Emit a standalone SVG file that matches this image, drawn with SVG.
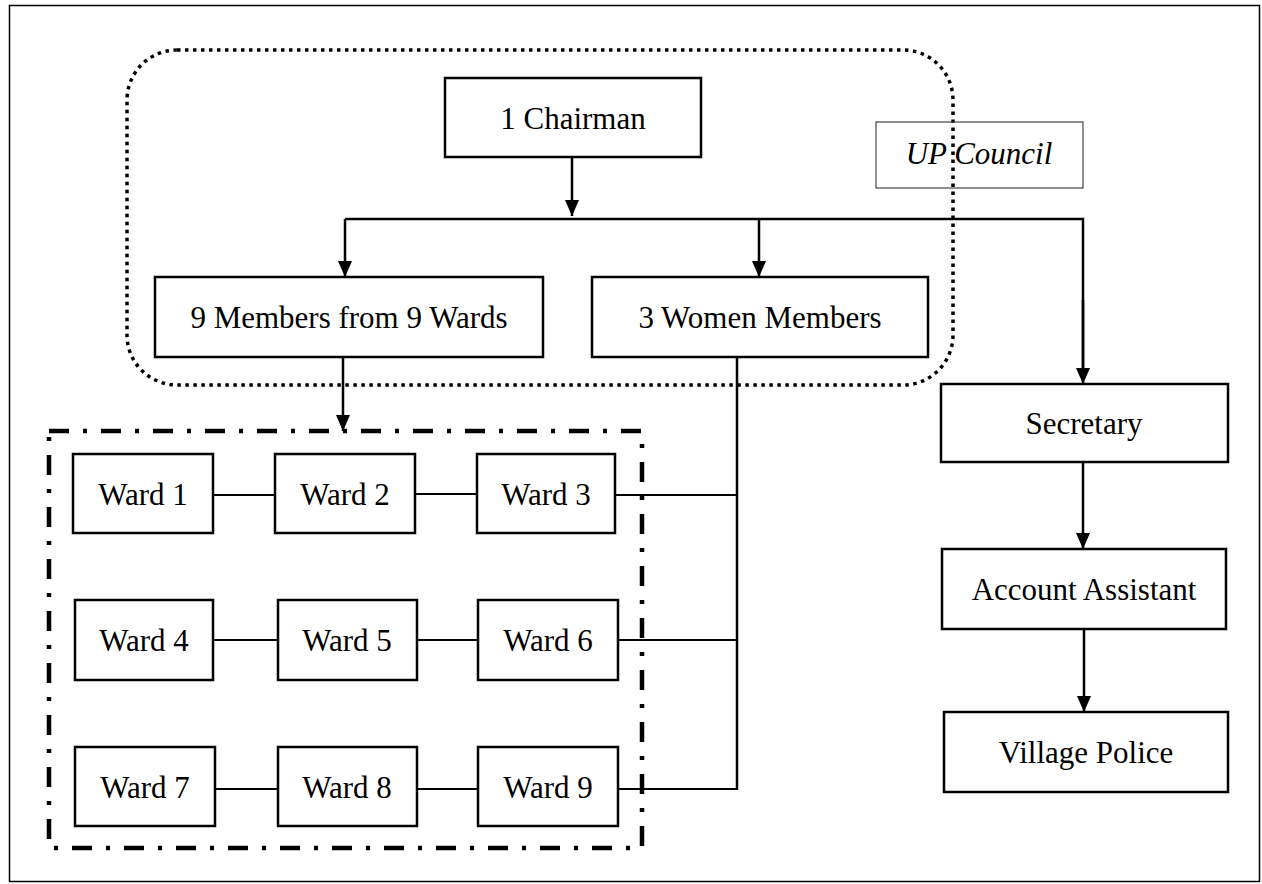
<svg xmlns="http://www.w3.org/2000/svg" width="1262" height="884" viewBox="0 0 1262 884">
<defs>
<marker id="ah" viewBox="0 0 16 14" refX="16" refY="7" markerWidth="16" markerHeight="14" markerUnits="userSpaceOnUse" orient="auto">
<path d="M0,0 L16,7 L0,14 Z" fill="#000"/>
</marker>
<style>
.box{fill:#fff;stroke:#000;stroke-width:2.5}
.t{font-family:"Liberation Serif","Times New Roman",serif;font-size:31px;fill:#000;text-anchor:middle}
.ln{fill:none;stroke:#000;stroke-width:2.5}
.thin{fill:none;stroke:#000;stroke-width:2}
</style>
</defs>
<rect x="0" y="0" width="1262" height="884" fill="#fff"/>
<rect x="9.5" y="5.5" width="1250" height="876" fill="none" stroke="#000" stroke-width="1.5"/>

<g id="up-council-frame">
<rect x="127" y="50" width="826" height="335" rx="50" ry="50" fill="none" stroke="#000" stroke-width="3.5" stroke-dasharray="3.5 4.5"/>
</g>
<g id="ward-frame">
<rect x="49" y="431" width="593" height="417" fill="none" stroke="#000" stroke-width="4.5" stroke-dasharray="20 14 4 14"/>
</g>

<g id="connectors">
<line class="ln" x1="572" y1="157" x2="572" y2="216" marker-end="url(#ah)"/>
<polyline class="ln" points="345,219 1083,219 1083,370" />
<line class="ln" x1="345" y1="219" x2="345" y2="277" marker-end="url(#ah)"/>
<line class="ln" x1="759" y1="219" x2="759" y2="277" marker-end="url(#ah)"/>
<line class="ln" x1="1083" y1="300" x2="1083" y2="384" marker-end="url(#ah)"/>
<line class="ln" x1="343" y1="357" x2="343" y2="431" marker-end="url(#ah)"/>
<line class="ln" x1="737" y1="357" x2="737" y2="790"/>
<line class="ln" x1="1083" y1="462" x2="1083" y2="549" marker-end="url(#ah)"/>
<line class="ln" x1="1084" y1="629" x2="1084" y2="712" marker-end="url(#ah)"/>
<line class="thin" x1="213" y1="495" x2="275" y2="495"/>
<line class="thin" x1="415" y1="494" x2="477" y2="494"/>
<line class="thin" x1="615" y1="495" x2="737" y2="495"/>
<line class="thin" x1="213" y1="640" x2="278" y2="640"/>
<line class="thin" x1="417" y1="640" x2="478" y2="640"/>
<line class="thin" x1="618" y1="640" x2="737" y2="640"/>
<line class="thin" x1="215" y1="789" x2="278" y2="789"/>
<line class="thin" x1="417" y1="789" x2="478" y2="789"/>
<line class="thin" x1="618" y1="789" x2="737" y2="789"/>
</g>

<g id="chairman"><rect class="box" x="445" y="78" width="256" height="79"/><text class="t" x="573" y="129">1 Chairman</text></g>
<g id="up-council-label"><rect x="876" y="122" width="207" height="66" fill="none" stroke="#444" stroke-width="1.2"/><text class="t" x="979" y="164" font-style="italic" font-size="28">UP  Council</text></g>
<g id="members"><rect class="box" x="155" y="277" width="388" height="80"/><text class="t" x="349" y="328">9 Members from 9 Wards</text></g>
<g id="women"><rect class="box" x="592" y="277" width="336" height="80"/><text class="t" x="760" y="328">3 Women Members</text></g>
<g id="secretary"><rect class="box" x="941" y="384" width="287" height="78"/><text class="t" x="1084" y="434">Secretary</text></g>
<g id="account"><rect class="box" x="942" y="549" width="284" height="80"/><text class="t" x="1084" y="600">Account Assistant</text></g>
<g id="police"><rect class="box" x="944" y="712" width="284" height="80"/><text class="t" x="1086" y="763">Village Police</text></g>

<g id="ward1"><rect class="box" x="73" y="454" width="140" height="79"/><text class="t" x="143" y="505">Ward 1</text></g>
<g id="ward2"><rect class="box" x="275" y="454" width="140" height="79"/><text class="t" x="345" y="505">Ward 2</text></g>
<g id="ward3"><rect class="box" x="477" y="454" width="138" height="79"/><text class="t" x="546" y="505">Ward 3</text></g>
<g id="ward4"><rect class="box" x="75" y="600" width="138" height="80"/><text class="t" x="144" y="651">Ward 4</text></g>
<g id="ward5"><rect class="box" x="278" y="600" width="139" height="80"/><text class="t" x="347" y="651">Ward 5</text></g>
<g id="ward6"><rect class="box" x="478" y="600" width="140" height="80"/><text class="t" x="548" y="651">Ward 6</text></g>
<g id="ward7"><rect class="box" x="75" y="747" width="140" height="79"/><text class="t" x="145" y="798">Ward 7</text></g>
<g id="ward8"><rect class="box" x="278" y="747" width="139" height="79"/><text class="t" x="347" y="798">Ward 8</text></g>
<g id="ward9"><rect class="box" x="478" y="747" width="140" height="79"/><text class="t" x="548" y="798">Ward 9</text></g>
</svg>
